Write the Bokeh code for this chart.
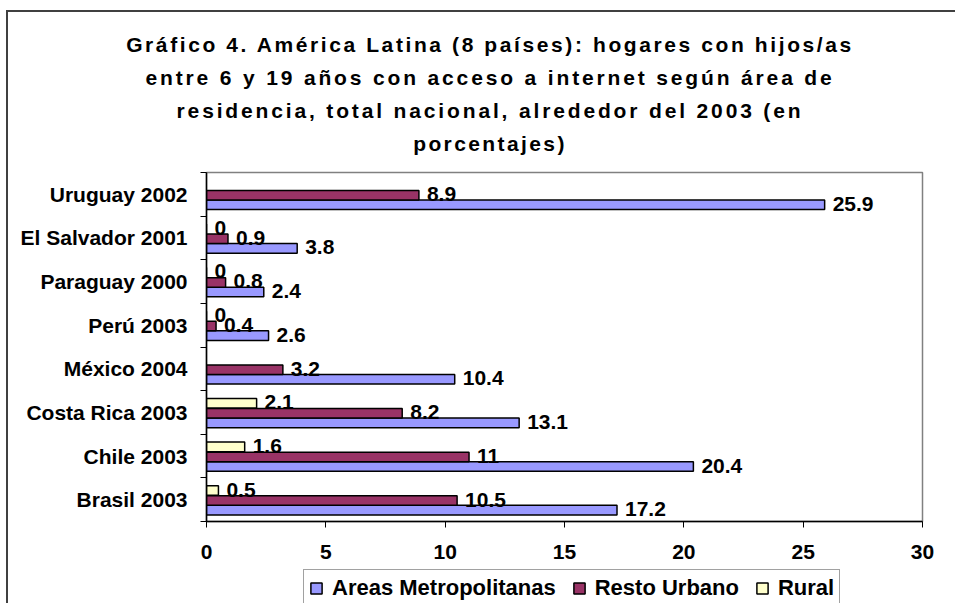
from bokeh.plotting import figure
from bokeh.layouts import column
from bokeh.models import (Range1d, FixedTicker, ColumnDataSource, LabelSet, Legend,
                          LegendItem, Div)
from bokeh.core.properties import value
from bokeh.embed import file_html
from bokeh.resources import INLINE

# ---------------- data ----------------
categories = ["Brasil 2003", "Chile 2003", "Costa Rica 2003", "México 2004",
              "Perú 2003", "Paraguay 2000", "El Salvador 2001", "Uruguay 2002"]
metro = [17.2, 20.4, 13.1, 10.4, 2.6, 2.4, 3.8, 25.9]
resto = [10.5, 11, 8.2, 3.2, 0.4, 0.8, 0.9, 8.9]
rural = [0.5, 1.6, 2.1, None, 0, 0, 0, None]
series_names = ["Areas Metropolitanas", "Resto Urbano", "Rural"]
x_ticks = [0, 5, 10, 15, 20, 25, 30]
title_lines = [
    "Gráfico 4. América Latina (8 países): hogares con hijos/as",
    "entre 6 y 19 años con acceso a internet según área de",
    "residencia, total nacional, alrededor del 2003 (en",
    "porcentajes)",
]

# ---------------- style ----------------
colors = ["#9999FF", "#993366", "#FFFFCC"]
offsets = [-0.24, -0.02, 0.21]
bar_h = 0.22
FONT = "Liberation Sans"
FS = "21px"
title_spacing = [2.6, 2.85, 2.85, 2.4]

OX, OY = 8, 12
PAGE_W, PAGE_H = 955, 603
TITLE_H = 150
FIG_W = PAGE_W - OX
FIG_TOP = OY + TITLE_H
FIG_BOTTOM = 568
FIG_H = FIG_BOTTOM - FIG_TOP
LEG_H = PAGE_H - FIG_BOTTOM
FRAME_L, FRAME_R, FRAME_T, FRAME_B = 206, 922, 172, 521

n = len(categories)
p = figure(width=FIG_W, height=FIG_H, output_backend="svg", toolbar_location=None,
           x_range=Range1d(0, 30), y_range=Range1d(0, n),
           min_border_left=FRAME_L - OX, min_border_right=PAGE_W - FRAME_R,
           min_border_top=FRAME_T - FIG_TOP, min_border_bottom=FIG_BOTTOM - FRAME_B,
           margin=0)
p.xgrid.visible = False
p.ygrid.visible = False
p.outline_line_color = "#808080"
p.outline_line_width = 1.5
p.background_fill_color = "white"
p.border_fill_color = "white"

# x axis
xa = p.xaxis[0]
xa.ticker = FixedTicker(ticks=x_ticks)
xa.axis_line_color = "black"
xa.axis_line_width = 1.5
xa.major_tick_out = 6
xa.major_tick_in = 0
xa.major_tick_line_color = "black"
xa.minor_tick_line_color = None
xa.major_label_text_font = FONT
xa.major_label_text_font_style = "bold"
xa.major_label_text_font_size = FS
xa.major_label_text_color = "black"
xa.major_label_standoff = 17

# y axis
ya = p.yaxis[0]
centers = [i + 0.5 for i in range(n)]
ya.ticker = FixedTicker(ticks=centers, minor_ticks=list(range(n + 1)))
ya.major_label_overrides = {c: name for c, name in zip(centers, categories)}
ya.axis_line_color = "black"
ya.axis_line_width = 1.5
ya.major_tick_out = 0
ya.major_tick_in = 0
ya.minor_tick_out = 6
ya.minor_tick_in = 0
ya.minor_tick_line_color = "black"
ya.major_label_text_font = FONT
ya.major_label_text_font_style = "bold"
ya.major_label_text_font_size = FS
ya.major_label_text_color = "black"
ya.major_label_standoff = 13

# legend strip: a small figure whose hidden bars feed the legend swatches
leg_fig = figure(width=FIG_W, height=LEG_H, output_backend="svg", toolbar_location=None,
                 x_axis_type=None, y_axis_type=None, min_border=0, margin=0,
                 x_range=Range1d(0, 30), y_range=Range1d(0, n))
leg_fig.outline_line_color = None
leg_fig.xgrid.visible = False
leg_fig.ygrid.visible = False

# bars
leg_renderers = []
for values, name, color, off in zip([metro, resto, rural], series_names, colors, offsets):
    ys, xs, labels = [], [], []
    for i, v in enumerate(values):
        if v is None:
            continue
        ys.append(i + 0.5 + off)
        xs.append(v)
        labels.append(f"{v:g}")
    src = ColumnDataSource(dict(y=ys, right=xs, label=labels))
    p.hbar(y="y", right="right", left=0, height=bar_h, source=src,
           fill_color=color, line_color="black", line_width=1.5)
    p.add_layout(LabelSet(x="right", y="y", text="label", source=src,
                          x_offset=8, y_offset=1, text_baseline="middle",
                          text_font=value(FONT), text_font_style=value("bold"),
                          text_font_size=value(FS), text_color=value("black")))
    lr = leg_fig.hbar(y="y", right="right", left=0, height=bar_h, source=src,
                      fill_color=color, line_color="black", line_width=1.5)
    lr.visible = False
    leg_renderers.append(lr)

# leg_fig frame is aligned with the main frame (left edge at page x = FRAME_L)
legend = Legend(items=[LegendItem(label=nm, renderers=[r]) for nm, r in zip(series_names, leg_renderers)],
                orientation="horizontal", location=(303 - FRAME_L, -4),
                glyph_width=14, glyph_height=14, label_standoff=9, spacing=16,
                padding=5, margin=0,
                label_text_font=FONT, label_text_font_style="bold",
                label_text_font_size="22px", label_text_color="black",
                border_line_color="#444444", border_line_width=1,
                background_fill_color="white", background_fill_alpha=1)
leg_fig.add_layout(legend)

# title
lines_html = "".join(
    '<div style="letter-spacing:%spx;">%s</div>' % (ls, t)
    for t, ls in zip(title_lines, title_spacing)
)
title_html = (
    '<div style="width:%dpx;box-sizing:border-box;padding-top:16px;padding-left:17px;'
    'text-align:center;font-family:\'Liberation Sans\';font-weight:bold;font-size:21px;'
    'line-height:33px;color:black;">%s</div>' % (FIG_W, lines_html)
)
title_div = Div(text=title_html, width=FIG_W, height=TITLE_H, margin=0)

root = column(title_div, p, leg_fig, margin=(OY - 2, 0, 0, OX - 2), spacing=0,
              styles={"border-top": "2px solid #404040", "border-left": "2px solid #404040",
                      "background": "white"})

open("out.html", "w").write(file_html(root, INLINE))
